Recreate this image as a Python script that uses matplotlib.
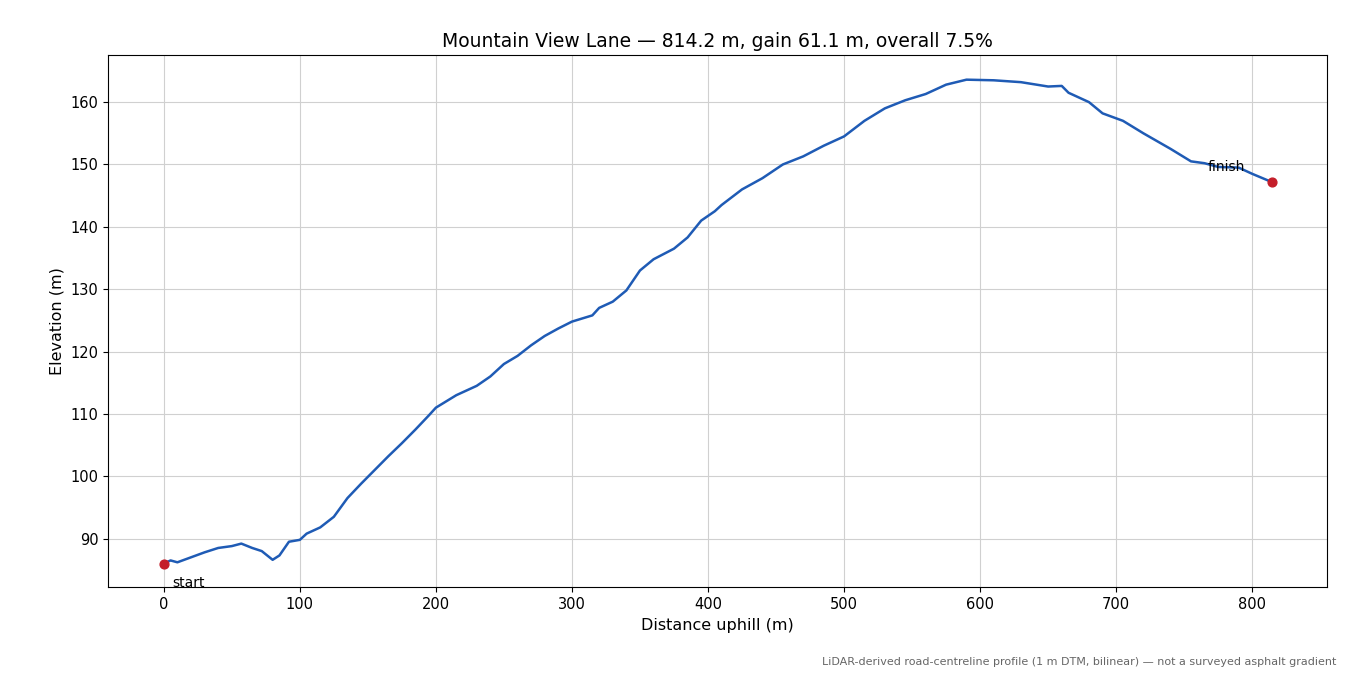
import matplotlib
matplotlib.use("Agg")
import matplotlib.pyplot as plt

dist = [0,5,10,20,30,40,50,57,65,72,80,85,92,100,105,115,125,135,145,155,165,175,185,195,200,215,230,240,250,260,270,280,290,300,315,320,330,340,350,360,375,385,395,405,410,425,440,455,470,485,500,515,530,545,560,575,590,610,630,650,660,665,680,690,705,720,740,755,765,775,790,800,814.2]
elev = [86.0,86.5,86.2,87.0,87.8,88.5,88.8,89.2,88.5,88.0,86.6,87.3,89.5,89.8,90.8,91.8,93.5,96.5,98.8,101.0,103.2,105.3,107.5,109.8,111.0,113.0,114.5,116.0,118.0,119.3,121.0,122.5,123.7,124.8,125.8,127.0,128.0,129.8,133.0,134.8,136.5,138.3,141.0,142.5,143.5,146.0,147.8,150.0,151.3,153.0,154.5,157.0,159.0,160.3,161.3,162.8,163.6,163.5,163.2,162.5,162.6,161.5,160.0,158.2,157.0,155.0,152.5,150.5,150.2,149.6,149.5,148.5,147.2]

fig, ax = plt.subplots(figsize=(13.5, 6.75), dpi=100)
fig.subplots_adjust(left=0.08, right=0.983, top=0.918, bottom=0.13)
ax.plot(dist, elev, color="#1f5bb5", lw=1.8)
ax.scatter([dist[0], dist[-1]], [elev[0], elev[-1]], color="#c41e2a", s=40, zorder=3)
ax.annotate("start", (dist[0], elev[0]), xytext=(6, -17), textcoords="offset points", fontsize=10)
ax.annotate("finish", (dist[-1], elev[-1]), xytext=(-46, 8), textcoords="offset points", fontsize=10)
ax.set_xlim(-41, 855)
ax.set_ylim(82.2, 167.5)
ax.grid(True, color="#d0d0d0", lw=0.8)
ax.set_axisbelow(True)
ax.tick_params(labelsize=10.5)
ax.set_xlabel("Distance uphill (m)", fontsize=11.5)
ax.set_ylabel("Elevation (m)", fontsize=11.5)
ax.set_title("Mountain View Lane — 814.2 m, gain 61.1 m, overall 7.5%", fontsize=13.5)
fig.text(0.99, 0.012, "LiDAR-derived road-centreline profile (1 m DTM, bilinear) — not a surveyed asphalt gradient",
         ha="right", va="bottom", fontsize=8, color="#666666")
fig.savefig("out.png")
